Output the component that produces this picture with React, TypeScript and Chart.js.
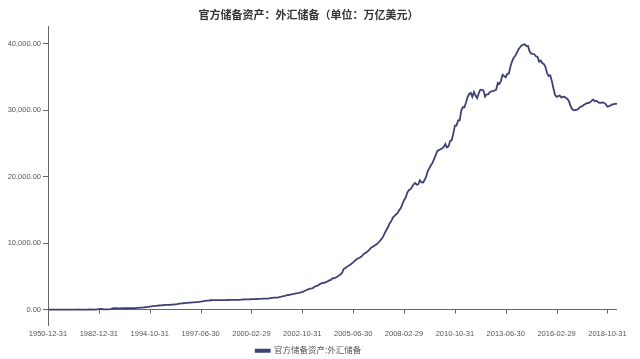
import React, { useEffect, useRef } from "react";
import { Chart, registerables } from "chart.js";

Chart.register(...registerables);

// Annual year-end values, 1950-1992 (亿美元)
const annualYears = [
  1950, 1951, 1952, 1953, 1954, 1955, 1956, 1957, 1958, 1959,
  1960, 1961, 1962, 1963, 1964, 1965, 1966, 1967, 1968, 1969,
  1970, 1971, 1972, 1973, 1974, 1975, 1976, 1977, 1978, 1979,
  1980, 1981, 1982, 1983, 1984, 1985, 1986, 1987, 1988, 1989,
  1990, 1991, 1992,
];
const annualReserves = [
  1.57, 0.45, 1.08, 0.9, 0.88, 1.8, 1.17, 1.23, 0.7, 1.05,
  0.46, 0.89, 0.81, 1.19, 1.66, 1.05, 2.11, 2.15, 2.46, 4.83,
  0.88, 0.37, 2.36, -0.81, 0.0, 1.83, 5.81, 9.52, 1.67, 8.4,
  -12.96, 27.08, 69.86, 89.01, 82.2, 26.44, 20.72, 29.23, 33.72, 55.5,
  110.93, 217.12, 194.43,
];

// Monthly month-end values, 1993-01 to 2019-04 (亿美元)
const monthlyStartYear = 1993;
const monthlyReserves = [
  // 1993
  195, 190, 192, 193, 190, 194, 195, 197, 199, 203, 206, 212,
  // 1994
  230, 245, 262, 280, 300, 321, 348, 380, 412, 444, 482, 516,
  // 1995
  540, 560, 585, 610, 630, 650, 670, 690, 700, 710, 720, 736,
  // 1996
  760, 790, 820, 860, 900, 920, 950, 970, 990, 1010, 1030, 1050,
  // 1997
  1070, 1090, 1110, 1130, 1160, 1200, 1230, 1270, 1300, 1330, 1360, 1399,
  // 1998
  1400, 1405, 1405, 1405, 1407, 1405, 1407, 1410, 1420, 1430, 1440, 1450,
  // 1999
  1452, 1455, 1460, 1465, 1470, 1470, 1480, 1500, 1510, 1520, 1530, 1547,
  // 2000
  1550, 1560, 1570, 1580, 1590, 1600, 1610, 1620, 1630, 1640, 1645, 1656,
  // 2001
  1688, 1720, 1759, 1795, 1800, 1805, 1832, 1890, 1960, 2010, 2060, 2122,
  // 2002
  2190, 2210, 2280, 2322, 2360, 2427, 2466, 2520, 2580, 2620, 2760, 2864,
  // 2003
  2980, 3060, 3160, 3200, 3290, 3465, 3560, 3640, 3839, 3932, 4000, 4033,
  // 2004
  4155, 4245, 4398, 4470, 4720, 4706, 4830, 4930, 5140, 5280, 5500, 6099,
  // 2005
  6234, 6426, 6591, 6701, 6910, 7110, 7327, 7533, 7690, 7800, 7946, 8189,
  // 2006
  8452, 8537, 8751, 8950, 9251, 9411, 9545, 9720, 9879, 10096, 10387, 10663,
  // 2007
  11046, 11578, 12020, 12465, 13000, 13326, 13851, 14086, 14336, 14548, 14968, 15282,
  // 2008
  15898, 16471, 16822, 17566, 17970, 18088, 18451, 18841, 19056, 18797, 18847, 19460,
  // 2009
  19135, 19124, 19537, 20089, 20895, 21316, 21745, 22108, 22726, 23283, 23877, 23992,
  // 2010
  24153, 24246, 24471, 24905, 24395, 24543, 25380, 25483, 26483, 27677, 27680, 28473,
  // 2011
  28471, 29914, 30447, 30447, 31166, 31975, 32452, 32625, 32017, 32738, 32209, 31811,
  // 2012
  32536, 33096, 33050, 32989, 32061, 32400, 32400, 32730, 32850, 32874, 32977, 33116,
  // 2013
  34100, 33954, 34426, 35345, 35148, 34967, 35478, 35530, 36627, 37363, 37890, 38213,
  // 2014
  38666, 39137, 39480, 39788, 39838, 39932, 39662, 39688, 38877, 38529, 38473, 38430,
  // 2015
  38134, 38015, 37300, 37481, 37111, 36938, 36513, 35574, 35141, 35255, 34383, 33304,
  // 2016
  32309, 32023, 32126, 32197, 31917, 32052, 32011, 31851, 31664, 31207, 30516, 30105,
  // 2017
  29982, 30051, 30091, 30295, 30536, 30568, 30807, 30915, 31085, 31092, 31193, 31399,
  // 2018
  31615, 31345, 31428, 31249, 31106, 31121, 31179, 31097, 30870, 30531, 30617, 30727,
  // 2019
  30879, 30902, 30988, 30952,
];

const yTickValues = [0, 10000, 20000, 30000, 40000];
const labelEvery = 32;
const titleText = "官方储备资产：外汇储备（单位：万亿美元）";
const seriesName = "官方储备资产:外汇储备";

const pad2 = (n: number) => (n < 10 ? "0" + n : String(n));
const monthEnd = (y: number, m: number) => {
  const d = new Date(Date.UTC(y, m + 1, 0)).getUTCDate();
  return `${y}-${pad2(m + 1)}-${pad2(d)}`;
};

const categories: string[] = [
  ...annualYears.map((y) => monthEnd(y, 11)),
  ...monthlyReserves.map((_, i) =>
    monthEnd(monthlyStartYear + Math.floor(i / 12), i % 12)
  ),
];
const values: number[] = [...annualReserves, ...monthlyReserves];

const FONT = "'Liberation Sans', 'Noto Sans CJK SC', sans-serif";
const AXIS_COLOR = "#666";
const LINE_COLOR = "#3d4275";

const zeroTicksPlugin = {
  id: "zeroTicks",
  afterDraw(chart: any) {
    const x = chart.scales.x;
    const y = chart.scales.y;
    const y0 = y.getPixelForValue(0);
    const ctx = chart.ctx;
    ctx.save();
    ctx.strokeStyle = AXIS_COLOR;
    ctx.lineWidth = 1;
    x.ticks.forEach((_: any, i: number) => {
      const px = Math.round(x.getPixelForTick(i)) + 0.5;
      ctx.beginPath();
      ctx.moveTo(px, y0);
      ctx.lineTo(px, y0 + 4);
      ctx.stroke();
    });
    ctx.restore();
  },
};

export default function App() {
  const ref = useRef<HTMLCanvasElement | null>(null);
  useEffect(() => {
    if (!ref.current) return;
    const chart = new Chart(ref.current, {
      type: "line",
      data: {
        labels: categories,
        datasets: [
          {
            label: seriesName,
            data: values,
            borderColor: LINE_COLOR,
            backgroundColor: LINE_COLOR,
            borderWidth: 1.8,
            pointRadius: 0,
            tension: 0,
          },
        ],
      },
      options: {
        animation: false,
        responsive: false,
        layout: { padding: { left: 0, right: 23, top: 0, bottom: -6 } },
        plugins: {
          title: {
            display: true,
            text: titleText,
            color: "#333",
            font: { family: FONT, size: 11, weight: "bold" },
            padding: { top: 9, bottom: 4 },
          },
          legend: {
            display: true,
            position: "bottom",
            labels: {
              color: "#555",
              font: { family: FONT, size: 8.5 },
              boxWidth: 14,
              boxHeight: 2,
              padding: 4,
            },
          },
          tooltip: { enabled: false },
        },
        scales: {
          x: {
            type: "category",
            offset: false,
            border: { display: false },
            grid: { display: false, drawTicks: false },
            afterBuildTicks: (s: any) => {
              s.ticks = s.ticks.filter((t: any) => t.value % labelEvery === 0);
            },
            ticks: {
              autoSkip: false,
              maxRotation: 0,
              minRotation: 0,
              color: "#555",
              padding: 4,
              font: { family: FONT, size: 7.5 },
            },
          },
          y: {
            min: -2400,
            max: 42650,
            afterBuildTicks: (s: any) => {
              s.ticks = yTickValues.map((v) => ({ value: v }));
            },
            afterFit: (s: any) => {
              s.width = 48;
            },
            border: { display: true, color: AXIS_COLOR, width: 1 },
            grid: {
              display: true,
              drawOnChartArea: true,
              color: (c: any) =>
                c.tick && c.tick.value === 0 ? AXIS_COLOR : "rgba(0,0,0,0)",
              tickColor: AXIS_COLOR,
              tickLength: 5,
            },
            ticks: {
              color: "#555",
              padding: 2,
              font: { family: FONT, size: 7.5 },
              callback: (v: any) =>
                Number(v).toLocaleString("en-US", {
                  minimumFractionDigits: 2,
                  maximumFractionDigits: 2,
                }),
            },
          },
        },
      },
      plugins: [zeroTicksPlugin],
    });
    return () => chart.destroy();
  }, []);
  return (
    <div style={{ position: "fixed", left: 0, top: 0, width: 640, height: 359, background: "#fff" }}>
      <canvas ref={ref} width={640} height={359} />
    </div>
  );
}
